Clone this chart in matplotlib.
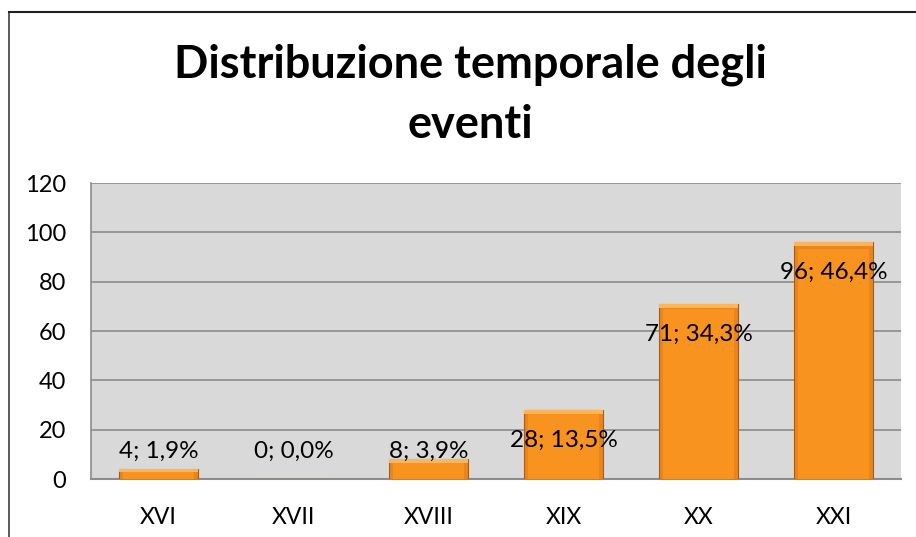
import numpy as np
import matplotlib
matplotlib.use('Agg')
import matplotlib.pyplot as plt
from matplotlib.lines import Line2D

secoli = ['XVI', 'XVII', 'XVIII', 'XIX', 'XX', 'XXI']
eventi = [4, 0, 8, 28, 71, 96]
percentuali = ['1,9%', '0,0%', '3,9%', '13,5%', '34,3%', '46,4%']
y_ticks = [0, 20, 40, 60, 80, 100, 120]

plt.rcParams['font.family'] = ['Lato', 'DejaVu Sans']

W, H = 916, 537
fig = plt.figure(figsize=(W / 100, H / 100), dpi=100)
# area del grafico (pixel)
left, right, top, bottom = 91, 901, 183, 479
ax = fig.add_axes([left / W, 1 - bottom / H, (right - left) / W, (bottom - top) / H])
ax.set_facecolor('#d9d9d9')

x = np.arange(len(secoli))
bars = ax.bar(x, eventi, width=0.58, color='#e8861c', edgecolor='#a85a14', linewidth=0.8, zorder=3)
# effetto smussato semplice
for b in bars:
    bx, bw, bh = b.get_x(), b.get_width(), b.get_height()
    if bh > 0:
        ax.bar(bx + bw / 2, bh * 0.97, width=bw * 0.9, bottom=0, color='#f7931e', linewidth=0, zorder=3.5)
        cap = min(1.5, bh * 0.3)
        ax.bar(bx + bw / 2, cap, width=bw, bottom=bh - cap, color='#fbb55a', linewidth=0, zorder=3.6)

ax.set_xlim(-0.5, len(secoli) - 0.5)
ax.set_ylim(0, 120)
ax.set_yticks(y_ticks)
ax.yaxis.grid(True, color='#8c8c8c', linewidth=1.2, zorder=0)
ax.set_axisbelow(True)
for s in ['top', 'right', 'left']:
    ax.spines[s].set_visible(False)
ax.spines['bottom'].set_color('#8c8c8c')
ax.spines['bottom'].set_linewidth(1.5)
ax.tick_params(axis='both', length=0, colors='black')
ax.tick_params(axis='y', pad=18, labelsize=17)
ax.tick_params(axis='x', pad=20, labelsize=16.5)
ax.set_xticks(x)
ax.set_xticklabels(secoli)

# bordo sinistro del piano
ax.plot([-0.5, -0.5], [0, 120], color='#8c8c8c', linewidth=1.2, zorder=1, clip_on=False)

for xi, v, p in zip(x, eventi, percentuali):
    ax.text(xi, max(v - 12.2, 11.35), f'{v}; {p}', ha='center', va='center',
            fontsize=17.5, zorder=5)

tx = 470 / W
fig.text(tx, 1 - 65 / H, 'Distribuzione temporale degli', ha='center', va='center',
         fontsize=32.5, fontweight='bold')
fig.text(tx, 1 - 125 / H, 'eventi', ha='center', va='center',
         fontsize=32.5, fontweight='bold')

# cornice del grafico
fig.add_artist(Line2D([8.5 / W, 8.5 / W], [0, 1 - 11.5 / H], color='#404040', linewidth=1.2))
fig.add_artist(Line2D([8.5 / W, 1], [1 - 11.5 / H, 1 - 11.5 / H], color='#202020', linewidth=1.5))

fig.savefig('out.png', dpi=100)
